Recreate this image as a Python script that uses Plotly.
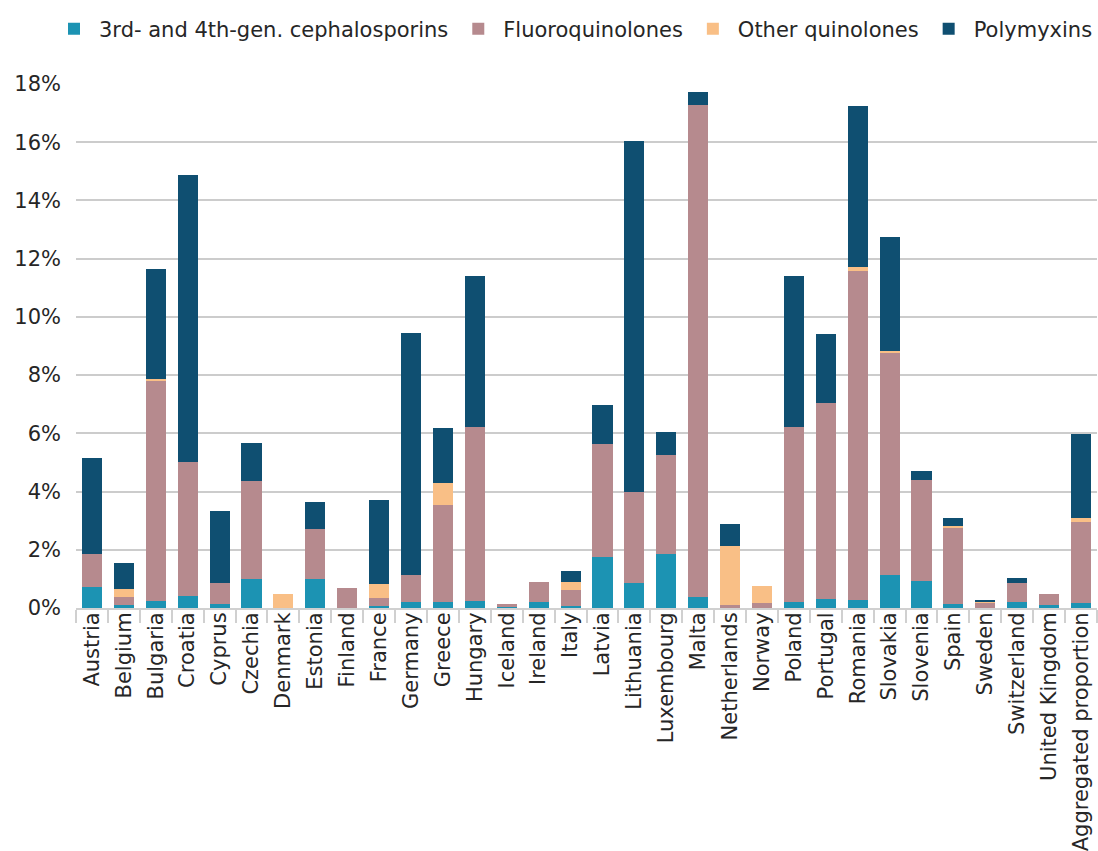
import plotly.graph_objects as go

countries = ["Austria", "Belgium", "Bulgaria", "Croatia", "Cyprus", "Czechia", "Denmark",
             "Estonia", "Finland", "France", "Germany", "Greece", "Hungary", "Iceland",
             "Ireland", "Italy", "Latvia", "Lithuania", "Luxembourg", "Malta", "Netherlands",
             "Norway", "Poland", "Portugal", "Romania", "Slovakia", "Slovenia", "Spain",
             "Sweden", "Switzerland", "United Kingdom", "Aggregated proportion"]

cephalosporins = [0.71, 0.11, 0.25, 0.42, 0.15, 1.01, 0.00, 1.01, 0.00, 0.06,
                  0.21, 0.21, 0.25, 0.05, 0.21, 0.08, 1.76, 0.87, 1.86, 0.39,
                  0.00, 0.00, 0.21, 0.32, 0.28, 1.14, 0.94, 0.15, 0.00, 0.21,
                  0.11, 0.18]
fluoroquinolones = [1.15, 0.26, 7.57, 4.61, 0.72, 3.36, 0.00, 1.71, 0.70, 0.27,
                    0.93, 3.33, 5.98, 0.10, 0.69, 0.55, 3.88, 3.10, 3.41, 16.88,
                    0.11, 0.18, 6.02, 6.73, 11.30, 7.63, 3.47, 2.61, 0.18, 0.66,
                    0.38, 2.78]
other_quinolones = [0.00, 0.30, 0.04, 0.00, 0.00, 0.00, 0.49, 0.00, 0.00, 0.50,
                    0.00, 0.76, 0.00, 0.00, 0.00, 0.27, 0.00, 0.00, 0.00, 0.00,
                    2.03, 0.58, 0.00, 0.00, 0.13, 0.06, 0.00, 0.04, 0.04, 0.00,
                    0.00, 0.14]
polymyxins = [3.31, 0.88, 3.77, 9.84, 2.47, 1.31, 0.00, 0.93, 0.00, 2.88,
              8.31, 1.90, 5.18, 0.00, 0.00, 0.38, 1.34, 12.07, 0.78, 0.45,
              0.75, 0.00, 5.18, 2.37, 5.53, 3.92, 0.31, 0.30, 0.07, 0.17,
              0.00, 2.89]

series = [
    ("3rd- and 4th-gen. cephalosporins", cephalosporins, "#1c93b3"),
    ("Fluoroquinolones", fluoroquinolones, "#b68a8e"),
    ("Other quinolones", other_quinolones, "#f9bf86"),
    ("Polymyxins", polymyxins, "#0f4f71"),
]

y_ticks = [0, 2, 4, 6, 8, 10, 12, 14, 16, 18]

FONT = "Verdana, DejaVu Sans, sans-serif"

fig = go.Figure()
for name, vals, color in series:
    fig.add_trace(go.Bar(x=countries, y=vals, name=name,
                         marker=dict(color=color, line=dict(width=0))))

fig.update_layout(
    barmode="stack",
    bargap=0.37,
    width=1098, height=851,
    margin=dict(l=76, r=1, t=84, b=243),
    paper_bgcolor="white", plot_bgcolor="white",
    font=dict(family=FONT, size=21, color="#262626"),
    legend=dict(orientation="h", x=-0.022, xanchor="left", y=1.105, yanchor="middle",
                font=dict(size=21, color="#262626"), traceorder="normal",
                itemwidth=40),
    showlegend=True,
)
fig.update_xaxes(
    type="category",
    tickangle=-90,
    ticks="outside", tickson="boundaries", ticklen=13, tickcolor="#d0d0d0", tickwidth=1.5,
    showline=True, linecolor="#d0d0d0", linewidth=2,
    showgrid=False,
    ticklabelstandoff=-6,
    tickfont=dict(size=21, color="#262626"),
)
fig.update_yaxes(
    range=[0, 18],
    tickvals=y_ticks,
    ticktext=[f"{v}%" for v in y_ticks],
    showgrid=True, gridcolor="#cccccc", gridwidth=1.5,
    zeroline=False, showline=False,
    ticklabelstandoff=14,
    tickfont=dict(size=21, color="#262626"),
)

fig.write_html("out.html", config={"displayModeBar": False},
               post_script="document.body.style.margin='0';")
